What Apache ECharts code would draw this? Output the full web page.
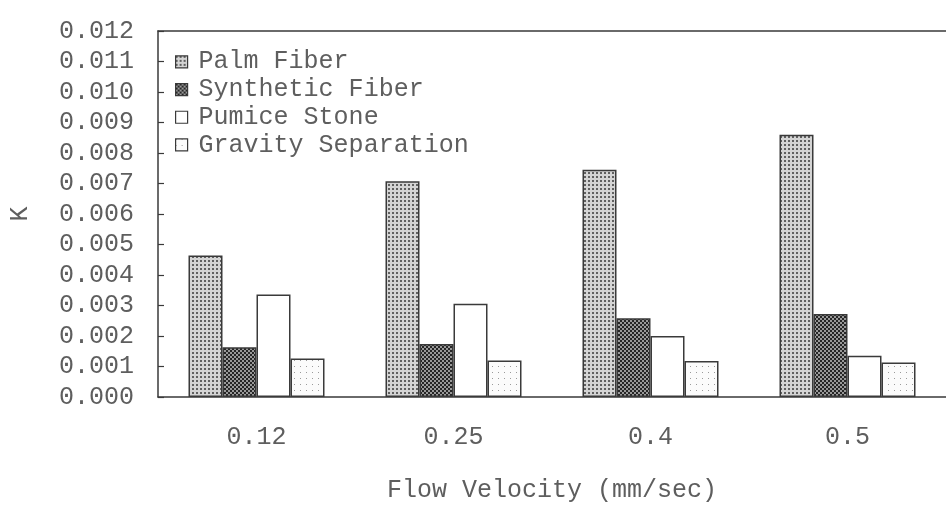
<!DOCTYPE html>
<html>
<head>
<meta charset="utf-8">
<script src="https://cdn.jsdelivr.net/npm/echarts@6/dist/echarts.min.js"></script>
<style>
html,body{margin:0;padding:0;background:#fff;}
#chart{width:946px;height:508px;}
</style>
</head>
<body>
<div id="chart"></div>
<script>
const categories = ['0.12', '0.25', '0.4', '0.5'];
const seriesNames = ['Palm Fiber', 'Synthetic Fiber', 'Pumice Stone', 'Gravity Separation'];
const palmFiber = [0.00464, 0.00707, 0.00745, 0.00860];
const syntheticFiber = [0.00163, 0.00174, 0.00258, 0.00272];
const pumiceStone = [0.00336, 0.00306, 0.00200, 0.00135];
const gravitySeparation = [0.00126, 0.00120, 0.00118, 0.00113];
const yMin = 0, yMax = 0.012, yInterval = 0.001;

function makePattern(size, bg, dots) {
  const c = document.createElement('canvas');
  c.width = size; c.height = size;
  const g = c.getContext('2d');
  g.fillStyle = bg; g.fillRect(0, 0, size, size);
  dots.forEach(d => { g.fillStyle = d[4]; g.fillRect(d[0], d[1], d[2], d[3]); });
  return { image: c, repeat: 'repeat' };
}
const palmPat = makePattern(4, '#d4d4d4', [[0,0,2,2,'#606060']]);
const synthPat = makePattern(4, '#999999', [[0,0,2,2,'#262626'],[2,2,2,2,'#262626']]);
const pumicePat = '#ffffff';
const gravPat = makePattern(6, '#fbfbfb', [[0,0,1,1,'#9a9a9a']]);

const FONT = '"Liberation Mono", "DejaVu Sans Mono", monospace';
const TXT = '#5e5e5e';
const LINE = '#3a3a3a';

const values = [palmFiber, syntheticFiber, pumiceStone, gravitySeparation];
const fills = [palmPat, synthPat, pumicePat, gravPat];

const chart = echarts.init(document.getElementById('chart'), null, {renderer: 'canvas'});
chart.setOption({
  animation: false,
  backgroundColor: '#ffffff',
  grid: {left: 153, width: 804, top: 31, height: 369, containLabel: false},
  legend: {
    orient: 'vertical', left: 170, top: 43,
    icon: 'rect',
    itemWidth: 12, itemHeight: 12, itemGap: 0,
    data: seriesNames,
    textStyle: {fontFamily: FONT, fontSize: 25, color: TXT, lineHeight: 27.7, padding: [0,0,0,6]},
    itemStyle: {borderColor: LINE, borderWidth: 1.2}
  },
  xAxis: [{
    type: 'category', data: categories, position: 'bottom',
    axisLine: {show: true, lineStyle: {color: LINE, width: 1.5}},
    axisTick: {show: false},
    axisLabel: {fontFamily: FONT, fontSize: 25, color: TXT, margin: 28},
    name: 'Flow Velocity (mm/sec)', nameLocation: 'middle', nameGap: 81,
    nameTextStyle: {fontFamily: FONT, fontSize: 25, color: TXT}
  }, {
    type: 'category', data: categories, position: 'top',
    axisLine: {show: true, lineStyle: {color: LINE, width: 1.5}},
    axisTick: {show: false}, axisLabel: {show: false}
  }],
  yAxis: {
    type: 'value', min: yMin, max: yMax, interval: yInterval,
    axisLine: {show: true, lineStyle: {color: LINE, width: 1.5}},
    axisTick: {show: true, inside: true, length: 6, lineStyle: {color: LINE, width: 1.2}},
    splitLine: {show: false},
    axisLabel: {fontFamily: FONT, fontSize: 25, color: TXT, margin: 24, padding: [0,0,7,0],
      formatter: v => v.toFixed(3)},
    name: 'K', nameLocation: 'middle', nameGap: 125, nameRotate: 90,
    nameTextStyle: {fontFamily: FONT, fontSize: 25, color: TXT}
  },
  series: seriesNames.map((n, i) => ({
    name: n, type: 'bar', xAxisIndex: 0, data: values[i],
    barWidth: 34, barGap: '0%',
    itemStyle: {color: fills[i], borderColor: LINE, borderWidth: 1.5}
  }))
});
</script>
</body>
</html>
